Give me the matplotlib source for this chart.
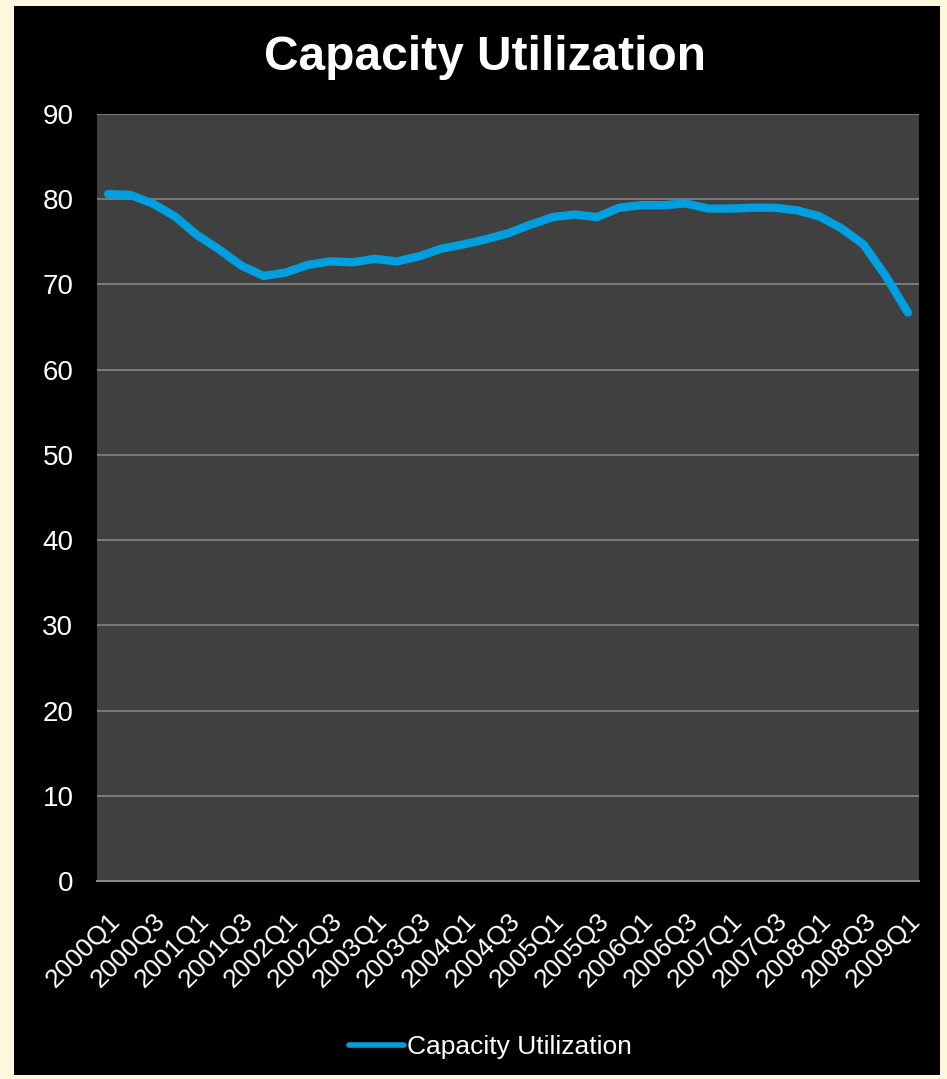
import matplotlib.pyplot as plt
from matplotlib.patches import Rectangle

# quarterly capacity utilization, 2000Q1 - 2009Q1
quarters = [f"{y}Q{q}" for y in range(2000, 2010) for q in range(1, 5)][:37]
values = [80.6, 80.5, 79.5, 78.0, 75.8, 74.1, 72.2, 71.0, 71.4, 72.3,
          72.7, 72.6, 73.0, 72.7, 73.3, 74.2, 74.7, 75.3, 76.0, 77.0,
          77.9, 78.2, 77.9, 79.0, 79.3, 79.3, 79.5, 78.9, 78.9, 79.0,
          79.0, 78.7, 78.0, 76.6, 74.7, 71.0, 66.7]
yticks = list(range(0, 91, 10))

plt.rcParams['font.family'] = ['Liberation Sans', 'DejaVu Sans']

fig = plt.figure(figsize=(9.47, 10.79), dpi=100)
fig.patch.set_facecolor('#FFF8DC')
# black slide panel inside the cream border
fig.patches.append(Rectangle((14 / 947, 4 / 1079), 926 / 947, 1069 / 1079,
                             transform=fig.transFigure, facecolor='black',
                             edgecolor='none', zorder=-5))

ax = fig.add_axes([97 / 947, 1 - 881 / 1079, 822 / 947, 767 / 1079])
ax.set_facecolor('#404040')

x = list(range(len(quarters)))
ax.plot(x, values, color='#009FDF', lw=6, solid_capstyle='round',
        solid_joinstyle='round', label='Capacity Utilization', zorder=3)

ax.set_xlim(-0.5, len(quarters) - 0.5)
ax.set_ylim(0, 90)
ax.set_yticks(yticks)
ax.yaxis.grid(True, color='#858585', lw=1.2)
ax.set_axisbelow(True)

ax.set_xticks(x[::2])
ax.set_xticklabels(quarters[::2], rotation=45, ha='right', va='top',
                   rotation_mode='anchor', color='white', fontsize=19)
ax.tick_params(axis='both', length=0, colors='white', labelsize=20)
ax.tick_params(axis='x', labelsize=19, pad=20)
ax.tick_params(axis='y', pad=17)

for side in ['top', 'right', 'left']:
    ax.spines[side].set_visible(False)
ax.spines['bottom'].set_color('#858585')
ax.spines['bottom'].set_linewidth(1.5)

fig.text(485 / 947, 1 - 57 / 1079, 'Capacity Utilization', ha='center',
         va='center', color='white', fontsize=34.5, fontweight='bold')

leg = fig.legend(loc='center', bbox_to_anchor=(490 / 947, 1 - 1047 / 1079),
                 frameon=False, fontsize=19, handlelength=2.1,
                 handletextpad=0.1)
for t in leg.get_texts():
    t.set_color('white')
for h in leg.get_lines():
    h.set_linewidth(4)

fig.savefig('out.png', dpi=100, facecolor=fig.get_facecolor())
